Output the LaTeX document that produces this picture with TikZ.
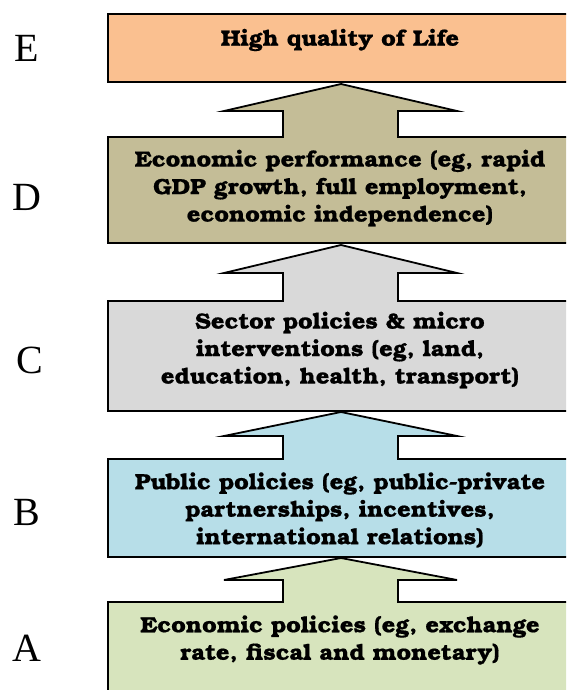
\documentclass[tikz,border=0pt]{standalone}
\usepackage{fontspec}
\setmainfont{Liberation Serif}
\newfontfamily\bookfont[FakeStretch=1.08,FakeBold=0.6]{texgyrebonum-bold.otf}
\definecolor{cE}{HTML}{FAC090}
\definecolor{cD}{HTML}{C4BD97}
\definecolor{cC}{HTML}{D9D9D9}
\definecolor{cB}{HTML}{B7DEE8}
\definecolor{cA}{HTML}{D7E4BD}
\tikzset{
  lvl/.style={draw=black, line width=1.8pt, line join=miter},
  txt/.style={font=\bookfont\fontsize{22}{27.5}\selectfont, align=center, inner sep=0pt},
  lettr/.style={font=\fontsize{40}{40}\selectfont, inner sep=0pt}
}
\begin{document}
\begin{tikzpicture}[x=1pt,y=-1pt]
\useasboundingbox (0,0) rectangle (566,690);
\begin{scope}
\clip (0,0) rectangle (566,690);
% E box
\fill[cE] (108,14) rectangle (580,82);
\draw[lvl] (580,14) -- (108,14) -- (108,82) -- (580,82);
% D box with arrow
\path[lvl,fill=cD] (580,243) -- (108,243) -- (108,137) -- (283,137) -- (283,111) -- (224,111) -- (341,84) -- (457,111) -- (398,111) -- (398,137) -- (580,137);
% C box with arrow
\path[lvl,fill=cC] (580,411) -- (108,411) -- (108,301) -- (283,301) -- (283,273) -- (224,273) -- (341,245) -- (457,273) -- (398,273) -- (398,301) -- (580,301);
% B box with arrow
\path[lvl,fill=cB] (580,557) -- (108,557) -- (108,459) -- (283,459) -- (283,436) -- (224,436) -- (341,412) -- (457,436) -- (398,436) -- (398,459) -- (580,459);
% A box with arrow
\path[lvl,fill=cA] (580,700) -- (108,700) -- (108,602) -- (283,602) -- (283,580) -- (224,580) -- (341,558) -- (457,580) -- (398,580) -- (398,602) -- (580,602);
\end{scope}
\node[txt] (tE) at (340,40) {High quality of Life};
\node[txt] (tD) at (340,188) {Economic performance (eg, rapid\\GDP growth, full employment,\\economic independence)};
\node[txt] (tC) at (340,350) {Sector policies \& micro\\interventions (eg, land,\\education, health, transport)};
\node[txt] (tB) at (340,510) {Public policies (eg, public-private\\partnerships, incentives,\\international relations)};
\node[txt] (tA) at (340,640) {Economic policies (eg, exchange\\rate, fiscal and monetary)};
\node[lettr] (lE) at (27,48) {E};
\node[lettr] (lD) at (27,197) {D};
\node[lettr] (lC) at (30,360) {C};
\node[lettr] (lB) at (27,512) {B};
\node[lettr] (lA) at (27,648) {A};
\end{tikzpicture}
\end{document}
